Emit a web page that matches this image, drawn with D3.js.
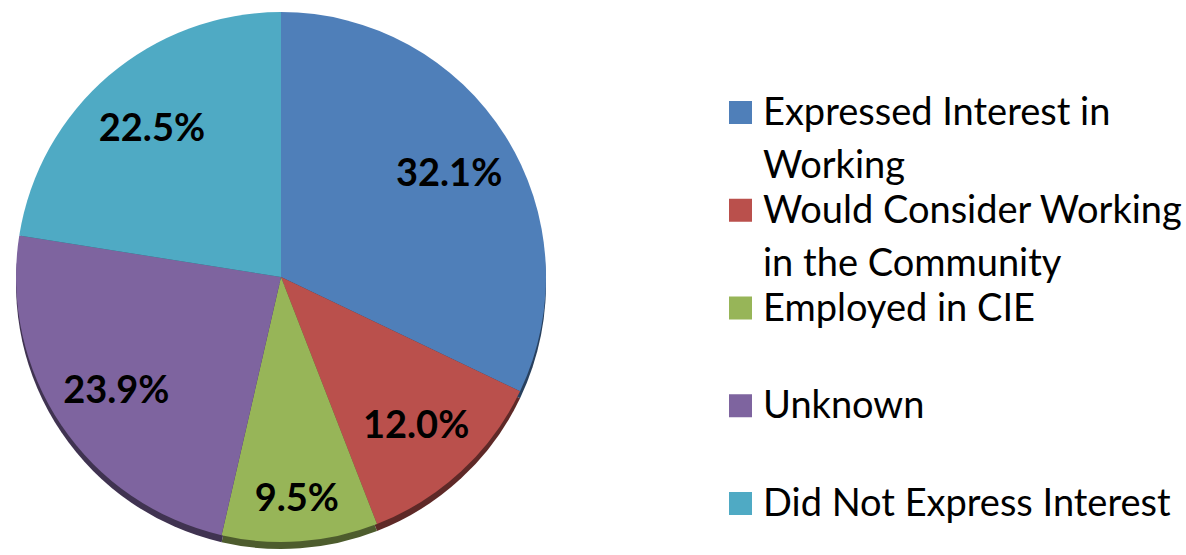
<!DOCTYPE html>
<html>
<head>
<meta charset="utf-8">
<script src="https://cdn.jsdelivr.net/npm/d3@7"></script>
<style>
  html, body { margin: 0; padding: 0; background: #fff; }
  svg { display: block; }
</style>
</head>
<body>
<svg id="chart" width="1186" height="555"></svg>
<script>
// ---- data ----
const categories = [
  "Expressed Interest in Working",
  "Would Consider Working in the Community",
  "Employed in CIE",
  "Unknown",
  "Did Not Express Interest"
];
const legendLines = [
  ["Expressed Interest in", "Working"],
  ["Would Consider Working", "in the Community"],
  ["Employed in CIE"],
  ["Unknown"],
  ["Did Not Express Interest"]
];
const values = [32.1, 12.0, 9.5, 23.9, 22.5];
const colors = ["#4f7fb9", "#ba504c", "#97b558", "#7e649f", "#4faac4"];

// ---- layout ----
const svg = d3.select("#chart");
const cx = 281, cy = 277, r = 265, depth = 7;

const data = categories.map((c, i) => ({ name: c, value: values[i], color: colors[i], lines: legendLines[i] }));

const pie = d3.pie().value(d => d.value).sort(null);
const arcs = pie(data);
const arc = d3.arc().innerRadius(0).outerRadius(r);

// depth / shadow layer
const shadow = svg.append("g").attr("transform", `translate(${cx},${cy + depth})`);
shadow.selectAll("path").data(arcs).join("path")
  .attr("d", arc)
  .attr("fill", d => d3.color(d.data.color).darker(1.9));

// face
const face = svg.append("g").attr("transform", `translate(${cx},${cy})`);
face.selectAll("path").data(arcs).join("path")
  .attr("d", arc)
  .attr("fill", d => d.data.color);

// labels
const labelR = d => (d.endAngle - d.startAngle) < 0.7 ? r * 0.83 : r * 0.75;
face.selectAll("text").data(arcs).join("text")
  .attr("transform", d => {
    const la = d3.arc().innerRadius(labelR(d)).outerRadius(labelR(d));
    const [x, y] = la.centroid(d);
    return `translate(${x},${y})`;
  })
  .attr("text-anchor", "middle")
  .attr("dominant-baseline", "central")
  .attr("font-family", "Lato, 'Open Sans', sans-serif")
  .attr("font-weight", "bold")
  .attr("font-size", 38)
  .attr("fill", "#000")
  .text(d => d.data.value.toFixed(1) + "%");

// legend
const legendY = d3.scalePoint().domain(categories).range([101, 492]);
const lg = svg.append("g");
const items = lg.selectAll("g").data(data).join("g")
  .attr("transform", d => `translate(729,${legendY(d.name)})`);
items.append("rect")
  .attr("width", 23).attr("height", 23)
  .attr("fill", d => d.color);
items.append("text")
  .attr("font-family", "Lato, 'Open Sans', sans-serif")
  .attr("font-size", 38)
  .attr("fill", "#000")
  .selectAll("tspan").data(d => d.lines).join("tspan")
  .attr("x", 34)
  .attr("y", (t, i) => 24 + i * 53)
  .text(t => t);
</script>
</body>
</html>
